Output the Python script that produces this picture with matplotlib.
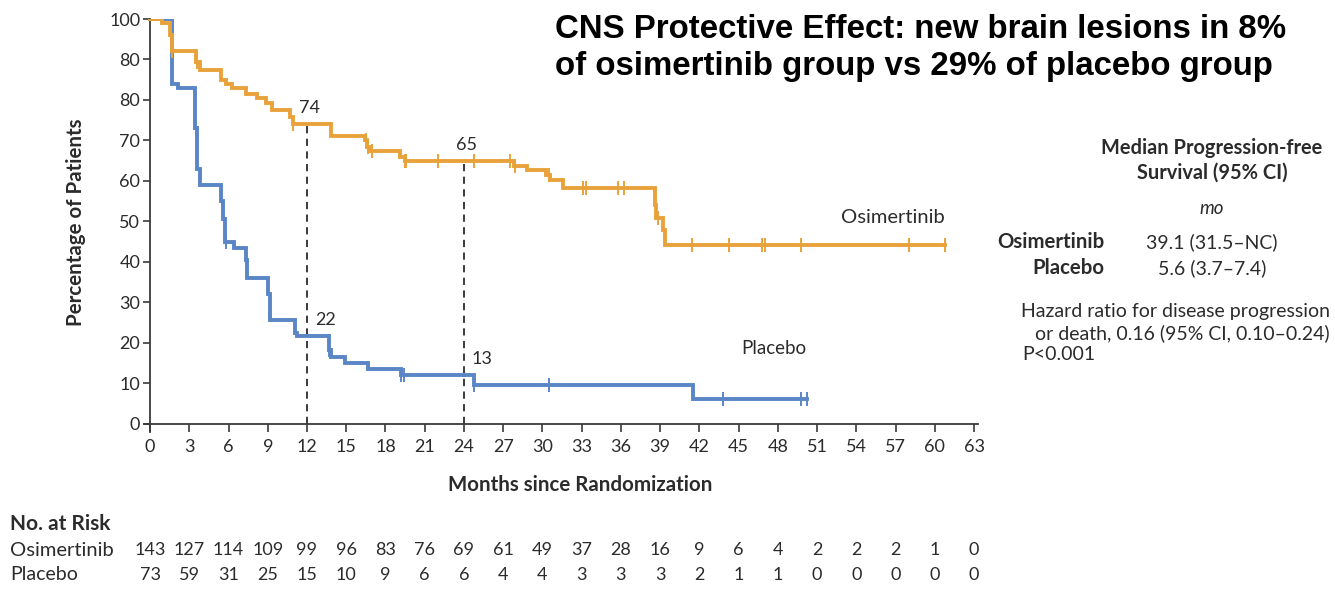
import numpy as np
import matplotlib
matplotlib.use("Agg")
import matplotlib.pyplot as plt
import matplotlib.transforms as mtransforms

# Kaplan-Meier steps
osi_times = [0, 0.9, 1.5, 1.7, 3.5, 3.8, 5.4, 5.8, 6.3, 7.3, 8.2, 8.9, 9.3, 10.7, 10.9,
             13.8, 16.4, 16.6, 16.8, 19.1, 19.5, 27.8, 28.8, 30.3, 30.6, 31.6,
             38.6, 38.7, 39.2, 39.4]
osi_surv = [100, 99, 96, 92, 89.5, 87.5, 85, 84, 83, 81.5, 80.6, 79.2, 77.5, 75.8, 74,
            71.2, 70, 68.5, 67.3, 66, 65, 63.8, 62.7, 61.5, 60.2, 58.3,
            54, 50.8, 47.9, 44.3]
osi_end = 60.8
osi_censor = [1.7, 3.6, 10.9, 16.5, 16.7, 17.0, 19.5, 19.6, 22.0, 24.8, 27.5, 27.9,
              30.5, 33.1, 33.3, 35.8, 36.2, 38.65, 38.8, 41.4, 44.3, 46.8, 47.0,
              49.8, 58.0, 60.8]

pla_times = [0, 1.7, 2.1, 3.4, 3.6, 3.8, 5.4, 5.6, 5.7, 5.75, 6.4, 7.3, 7.4, 9.05, 9.2,
             11.1, 11.2, 13.7, 13.85, 14.9, 16.7, 19.2, 24.8, 41.5]
pla_surv = [100, 84, 83, 73, 63, 59, 55, 50.5, 47.5, 45, 43.5, 40.5, 36, 32, 25.7,
            22.4, 21.6, 18.3, 16.6, 15.1, 13.5, 12.1, 9.6, 6.1]
pla_end = 50.2
pla_censor = [5.8, 13.7, 19.2, 19.4, 24.8, 30.5, 43.8, 49.8, 50.2]

landmarks = [12, 24]
osi_landmark_labels = ["74", "65"]
pla_landmark_labels = ["22", "13"]

risk_months = list(range(0, 64, 3))
osi_risk = [143, 127, 114, 109, 99, 96, 83, 76, 69, 61, 49, 37, 28, 16, 9, 6, 4, 2, 2, 2, 1, 0]
pla_risk = [73, 59, 31, 25, 15, 10, 9, 6, 6, 4, 4, 3, 3, 3, 2, 1, 1, 0, 0, 0, 0, 0]

ytick_vals = [100, 90, 80, 70, 60, 50, 40, 30, 20, 10, 0]
ytick_labels = ["100", "80", "80", "70", "60", "50", "40", "30", "20", "10", "0"]

ORANGE = "#E9A23B"
BLUE = "#5A86C6"
DARK = "#2b2b2b"
FONT = ["Lato", "DejaVu Sans"]

plt.rcParams['font.family'] = FONT


def surv_at(times, surv, t):
    idx = np.searchsorted(times, t, side='right') - 1
    return np.asarray(surv)[idx]


fig = plt.figure(figsize=(13.35, 5.89), dpi=100, facecolor='white')
ax = fig.add_axes([143.5 / 1335, 1 - 432 / 589, (978 - 143.5) / 1335, (432 - 19) / 589])

# curves (osimertinib drawn on top)
for times, surv, end, cens, col, z in [(pla_times, pla_surv, pla_end, pla_censor, BLUE, 3),
                                        (osi_times, osi_surv, osi_end, osi_censor, ORANGE, 5)]:
    x = list(times) + [end]
    y = list(surv) + [surv[-1]]
    ax.step(x, y, where='post', color=col, lw=2.8, solid_joinstyle='miter', zorder=z)
    cy = surv_at(times, surv, cens)
    ax.plot(cens, cy, ls='none', marker='|', ms=10, mew=1.4, color=col, zorder=z + 1)

# landmark dashed lines
for m, olab, plab in zip(landmarks, osi_landmark_labels, pla_landmark_labels):
    top = surv_at(osi_times, osi_surv, m)
    low = surv_at(pla_times, pla_surv, m)
    ax.vlines(m, 0, top, colors=DARK, linestyles=(0, (4, 3)), lw=1.3, zorder=2)
    ax.text(m - 0.6, top + 2.0, olab, fontsize=13, color=DARK, ha='left', va='bottom')
    ax.text(m + 0.6, low + 2.0, plab, fontsize=13, color=DARK, ha='left', va='bottom')

ax.text(56.8, 50.9, "Osimertinib", fontsize=14.5, color=DARK, ha='center', va='center')
ax.text(47.7, 18.5, "Placebo", fontsize=13.5, color=DARK, ha='center', va='center')

ax.set_xlim(-0.5, 63.3)
ax.set_ylim(-2, 100)
ax.spines['left'].set_position(('data', 0))
ax.spines['bottom'].set_position(('data', 0))
ax.spines['left'].set_bounds(-2, 100)
for s in ['top', 'right']:
    ax.spines[s].set_visible(False)
for s in ['left', 'bottom']:
    ax.spines[s].set_color('#3a3a3a')
    ax.spines[s].set_linewidth(1.3)

ax.set_xticks(risk_months)
ax.set_yticks(ytick_vals)
ax.set_yticklabels(ytick_labels)
ax.tick_params(axis='x', direction='out', length=6, width=1.2, colors='#3a3a3a',
               labelsize=13, labelcolor=DARK, pad=5)
ax.tick_params(axis='y', direction='out', length=5, width=1.2, colors='#3a3a3a',
               labelsize=13, labelcolor=DARK, pad=2)

ax.set_xlabel("Months since Randomization", fontsize=14.8, fontweight='bold', color=DARK)
ax.xaxis.set_label_coords(0.523, -0.105)
ax.set_ylabel("Percentage of Patients", fontsize=14.8, fontweight='bold', color=DARK)
ax.yaxis.set_label_coords(-0.069, 0.508)

# number at risk
trans = mtransforms.blended_transform_factory(ax.transData, fig.transFigure)
fig.text(10 / 1335, 1 - 524 / 589, "No. at Risk", fontsize=15, fontweight='bold',
         color=DARK, ha='left', va='center')
fig.text(10 / 1335, 1 - 550 / 589, "Osimertinib", fontsize=14.5, color=DARK,
         ha='left', va='center')
fig.text(10 / 1335, 1 - 575 / 589, "Placebo", fontsize=14, color=DARK,
         ha='left', va='center')
for m, a, b in zip(risk_months, osi_risk, pla_risk):
    ax.text(m, 1 - 550 / 589, str(a), transform=trans, fontsize=13, color=DARK,
            ha='center', va='center')
    ax.text(m, 1 - 575 / 589, str(b), transform=trans, fontsize=13, color=DARK,
            ha='center', va='center')

# side panel
def ft(x, y, s, **kw):
    fig.text(x / 1335, 1 - y / 589, s, color=DARK, va='center', **kw)

ft(1212, 148, "Median Progression-free", fontsize=14.4, fontweight='bold', ha='center')
ft(1212, 173, "Survival (95% CI)", fontsize=14.4, fontweight='bold', ha='center')
ft(1212, 208, "mo", fontsize=13.5, style='italic', ha='center')
ft(1104, 242, "Osimertinib", fontsize=14.7, fontweight='bold', ha='right')
ft(1104, 268, "Placebo", fontsize=14.7, fontweight='bold', ha='right')
ft(1212, 242, "39.1 (31.5\u2013NC)", fontsize=14, ha='center')
ft(1212, 268, "5.6 (3.7\u20137.4)", fontsize=14, ha='center')
ft(1330, 311, "Hazard ratio for disease progression", fontsize=14, ha='right')
ft(1330, 333, "or death, 0.16 (95% CI, 0.10\u20130.24)", fontsize=14, ha='right')
ft(1022, 355, "P<0.001", fontsize=14, ha='left')

# headline
title_font = ["Liberation Sans Narrow", "Liberation Sans", "DejaVu Sans"]
fig.text(555 / 1335, 1 - 38 / 589, "CNS Protective Effect: new brain lesions in 8%",
         fontsize=23.8, fontweight='bold', family=title_font, color='black',
         ha='left', va='baseline')
fig.text(555 / 1335, 1 - 75.5 / 589, "of osimertinib group vs 29% of placebo group",
         fontsize=23.8, fontweight='bold', family=title_font, color='black',
         ha='left', va='baseline')

fig.savefig("out.png", dpi=100, facecolor='white')
